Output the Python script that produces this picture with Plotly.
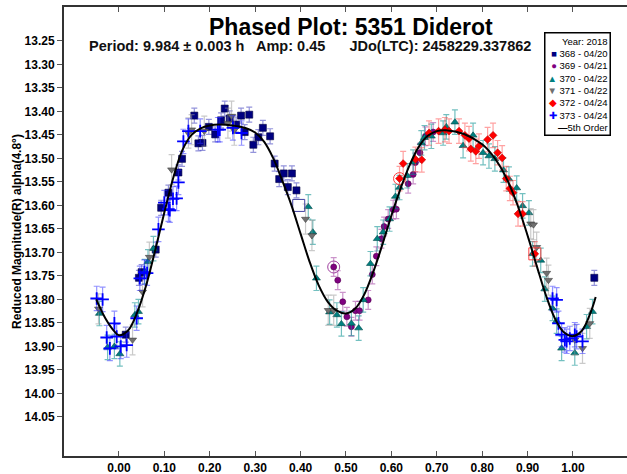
import plotly.graph_objects as go

# ---------------- data ----------------
x_ticks = [0.0, 0.1, 0.2, 0.3, 0.4, 0.5, 0.6, 0.7, 0.8, 0.9, 1.0]
x_ticklabels = ["0.00", "0.10", "0.20", "0.30", "0.40", "0.50", "0.60", "0.70", "0.80", "0.90", "1.00"]
y_ticks = [13.25, 13.30, 13.35, 13.40, 13.45, 13.50, 13.55, 13.60, 13.65, 13.70,
           13.75, 13.80, 13.85, 13.90, 13.95, 14.00, 14.05]
y_ticklabels = ["%.2f" % v for v in y_ticks]

legend_title = "Year: 2018"
series_names = ["368 - 04/20", "369 - 04/21", "370 - 04/22", "371 - 04/22", "372 - 04/24", "373 - 04/24"]
fit_name = "5th Order"

s368_phase = [0.015, 0.044, 0.050, 0.081, 0.093, 0.109, 0.131, 0.139, 0.166, 0.175, 0.184, 0.198,
              0.212, 0.225, 0.233, 0.244, 0.258, 0.269, 0.277, 0.287, 0.296, 0.307, 0.317,
              0.333, 0.343, 0.353, 0.363, 0.372, 0.381, 0.391, 1.047]
s368_mag = [13.875, 13.754, 13.742, 13.694, 13.605, 13.573, 13.530, 13.501, 13.409, 13.468, 13.467, 13.433,
            13.449, 13.419, 13.394, 13.415, 13.428, 13.409, 13.444, 13.407, 13.471, 13.455, 13.435,
            13.453, 13.511, 13.544, 13.532, 13.561, 13.532, 13.568, 13.754]
s368_err = 0.016

s369_phase = [0.473, 0.482, 0.493, 0.502, 0.512, 0.521, 0.530, 0.549, 0.558, 0.567, 0.578, 0.584,
              0.593, 0.604, 0.611, 0.637, 0.648, 0.653, 0.663, 0.675, 0.692]
s369_mag = [13.731, 13.759, 13.805, 13.837, 13.858, 13.824, 13.824, 13.801, 13.747, 13.708, 13.671, 13.645,
            13.629, 13.609, 13.608, 13.554, 13.534, 13.509, 13.488, 13.453, 13.444]
s369_err = 0.02

s370_phase = [-0.043, -0.025, -0.010, 0.002, 0.035, 0.043, 0.057, 0.064, 0.076, 0.417, 0.427, 0.435,
              0.464, 0.480, 0.490, 0.512, 0.528, 0.538, 0.554, 0.569, 0.582, 0.596, 0.609, 0.618,
              0.635, 0.648, 0.666, 0.673, 0.688, 0.714, 0.721, 0.740, 0.758, 0.780, 0.802, 0.815,
              0.828, 0.847, 0.859, 0.876, 0.889, 0.903, 0.911, 0.929, 0.938, 0.955, 0.964, 0.975,
              1.004, 1.030, 1.043]
s370_mag = [13.830, 13.902, 13.900, 13.916, 13.833, 13.826, 13.741, 13.720, 13.692, 13.603, 13.657, 13.755,
            13.827, 13.833, 13.852, 13.851, 13.861, 13.801, 13.724, 13.671, 13.657, 13.629, 13.581, 13.562,
            13.537, 13.508, 13.467, 13.456, 13.453, 13.446, 13.433, 13.423, 13.473, 13.451, 13.488, 13.495,
            13.501, 13.525, 13.544, 13.563, 13.601, 13.616, 13.703, 13.717, 13.778, 13.819, 13.846, 13.904,
            13.914, 13.858, 13.826]
s370_err = 0.026

s371_phase = [-0.045, 0.030, 0.052, 0.067, 0.116, 0.153, 0.160, 0.188, 0.240, 0.248, 0.254, 0.411,
              0.425, 0.461, 0.473, 0.907, 0.913, 0.920, 0.942, 0.946, 1.004, 1.021, 1.037]
s371_mag = [13.820, 13.886, 13.784, 13.710, 13.524, 13.446, 13.439, 13.442, 13.425, 13.410, 13.440, 13.629,
            13.664, 13.823, 13.823, 13.639, 13.641, 13.689, 13.744, 13.759, 13.886, 13.904, 13.851]
s371_err = 0.032

s372_phase = [0.618, 0.626, 0.653, 0.667, 0.683, 0.704, 0.718, 0.727, 0.749, 0.762, 0.771, 0.775,
              0.786, 0.793, 0.812, 0.824, 0.834, 0.844, 0.853, 0.861, 0.868, 0.879, 0.889, 0.916]
s372_mag = [13.543, 13.511, 13.502, 13.503, 13.446, 13.442, 13.439, 13.442, 13.442, 13.451, 13.458, 13.480,
            13.485, 13.474, 13.460, 13.451, 13.488, 13.499, 13.543, 13.564, 13.573, 13.618, 13.618, 13.703]
s372_err = 0.026

s373_phase = [-0.049, -0.036, -0.027, -0.020, -0.010, -0.005, 0.004, 0.017, 0.039, 0.046, 0.056, 0.062,
              0.087, 0.100, 0.109, 0.112, 0.119, 0.127, 0.131, 0.142, 0.153, 0.179, 0.218, 0.222,
              0.251, 0.270, 0.955, 0.964, 0.968, 0.975, 0.982, 0.986, 0.993, 1.004, 1.008, 1.021]
s373_mag = [13.798, 13.800, 13.881, 13.904, 13.851, 13.879, 13.900, 13.897, 13.840, 13.755, 13.742, 13.744,
            13.651, 13.594, 13.608, 13.610, 13.586, 13.585, 13.551, 13.464, 13.442, 13.442, 13.439, 13.439,
            13.435, 13.446, 13.798, 13.801, 13.851, 13.875, 13.886, 13.889, 13.883, 13.875, 13.879, 13.889]
s373_err = 0.026

# flagged (ringed / hollow) observations
flag_phase = [0.396, 0.473, 0.618, 0.916]
flag_mag = [13.600, 13.731, 13.543, 13.703]

fit_phase = [-0.05, -0.03, -0.01, 0.00, 0.02, 0.04, 0.06, 0.08, 0.10, 0.12, 0.14, 0.16, 0.18, 0.20,
             0.22, 0.25, 0.28, 0.30, 0.32, 0.34, 0.36, 0.38, 0.40, 0.42, 0.44, 0.46, 0.48, 0.50,
             0.52, 0.54, 0.56, 0.58, 0.60, 0.62, 0.64, 0.66, 0.68, 0.70, 0.72, 0.76, 0.80, 0.82,
             0.84, 0.86, 0.88, 0.90, 0.92, 0.94, 0.96, 0.98, 1.00, 1.02, 1.04, 1.05]
fit_mag = [13.800, 13.840, 13.868, 13.876, 13.866, 13.828, 13.770, 13.695, 13.615, 13.540, 13.482, 13.450,
           13.436, 13.430, 13.428, 13.430, 13.436, 13.445, 13.465, 13.500, 13.548, 13.600, 13.660, 13.720,
           13.770, 13.805, 13.824, 13.830, 13.820, 13.790, 13.742, 13.684, 13.622, 13.565, 13.515, 13.476,
           13.452, 13.442, 13.440, 13.448, 13.470, 13.490, 13.518, 13.556, 13.605, 13.664, 13.728, 13.790,
           13.840, 13.870, 13.878, 13.866, 13.825, 13.795]

FONT = "Arial, Liberation Sans, sans-serif"

# style per series: symbol, color, error color, size, outline color, outline width, legend glyph
styles = [
    ("square", "#000080", "rgba(60,60,190,0.55)", 7, "#000040", 0.6, "\u25a0"),
    ("circle", "#800080", "rgba(160,60,160,0.55)", 6, "#500050", 0.6, "\u25cf"),
    ("triangle-up", "#008080", "rgba(0,140,140,0.55)", 7, "#004848", 0.6, "\u25b2"),
    ("triangle-down", "#707070", "rgba(150,150,150,0.5)", 7, "#404040", 0.6, "\u25bc"),
    ("diamond", "#FF0000", "rgba(255,70,70,0.5)", 6, "#C00000", 0.6, "\u25c6"),
    ("cross-thin", "#0000FF", "rgba(40,40,255,0.5)", 9, "#0000FF", 1.8, "\u271a"),
]
series = [
    (s368_phase, s368_mag, s368_err),
    (s369_phase, s369_mag, s369_err),
    (s370_phase, s370_mag, s370_err),
    (s371_phase, s371_mag, s371_err),
    (s372_phase, s372_mag, s372_err),
    (s373_phase, s373_mag, s373_err),
]

fig = go.Figure()

for name, (xs, ys, err), (sym, col, ecol, size, lcol, lw, glyph) in zip(series_names, series, styles):
    fig.add_trace(go.Scatter(
        x=xs, y=ys, mode="markers", name=name, showlegend=False,
        marker=dict(symbol=sym, color=col, size=size, line=dict(color=lcol, width=lw)),
        error_y=dict(type="constant", value=err, color=ecol, thickness=1.2, width=3),
    ))

fig.add_trace(go.Scatter(
    x=flag_phase, y=flag_mag, mode="markers", showlegend=False, hoverinfo="skip",
    marker=dict(symbol=["square-open", "circle-open", "circle-open", "square-open"],
                color=["#4040A0", "#A040A0", "#FF4040", "#FF4040"], size=12,
                line=dict(width=1)),
))

fig.add_trace(go.Scatter(
    x=fit_phase, y=fit_mag, mode="lines", name=fit_name, showlegend=False,
    line=dict(color="black", width=2, shape="spline", smoothing=1.0),
))

# compact legend box (text with coloured symbol glyphs)
legend_lines = [legend_title]
for name, st in zip(series_names, styles):
    legend_lines.append("<span style='color:%s'>%s</span> %s" % (st[1], st[6], name))
legend_lines.append("<b>\u2014</b>" + fit_name)
legend_text = "<br>".join(legend_lines)

fig.update_layout(
    width=627, height=474,
    margin=dict(l=64, r=0, t=7, b=18, autoexpand=False),
    paper_bgcolor="white", plot_bgcolor="white",
    font=dict(family=FONT, color="black"),
    showlegend=False,
    annotations=[
        dict(text="<b>Phased Plot: 5351 Diderot</b>", xref="paper", yref="paper",
             x=0.51, y=0.955, xanchor="center", yanchor="middle", showarrow=False,
             font=dict(family=FONT, size=23, color="black")),
        dict(text="<b>Period: 9.984 \u00b1 0.003 h\u00a0\u00a0 Amp: 0.45\u00a0\u00a0\u00a0\u00a0\u00a0 JDo(LTC): 2458229.337862</b>",
             xref="paper", yref="paper",
             x=0.041, y=0.913, xanchor="left", yanchor="middle", showarrow=False,
             font=dict(family=FONT, size=14.5, color="#111")),
        dict(text=legend_text, xref="paper", yref="paper",
             x=0.9716, y=0.9443, xanchor="right", yanchor="top", showarrow=False,
             align="right", bgcolor="white", bordercolor="black", borderwidth=1.5, borderpad=2,
             font=dict(family=FONT, size=9.5, color="black")),
    ],
)

fig.update_xaxes(
    range=[-0.121, 1.119], tickvals=x_ticks, ticktext=x_ticklabels,
    showgrid=False, zeroline=False, showline=True, linecolor="#333", linewidth=2,
    mirror="ticks", ticks="inside", ticklen=5, tickcolor="#555", tickwidth=1,
    tickfont=dict(family=FONT, size=12, color="black", weight="bold"),
)
fig.update_yaxes(
    range=[14.133, 13.178], tickvals=y_ticks, ticktext=y_ticklabels,
    showgrid=False, zeroline=False, showline=True, linecolor="#333", linewidth=2,
    mirror=False, ticks="outside", ticklen=5, tickcolor="#555", tickwidth=1,
    tickfont=dict(family=FONT, size=12, color="black", weight="bold"),
    title=dict(text="<b>Reduced Magnitude(R) alpha(4.8\u00b0)</b>", standoff=0,
               font=dict(family=FONT, size=12, color="black")),
)

fig.write_html("out.html", config={"displayModeBar": False},
               post_script="document.body.style.margin='0px';")
